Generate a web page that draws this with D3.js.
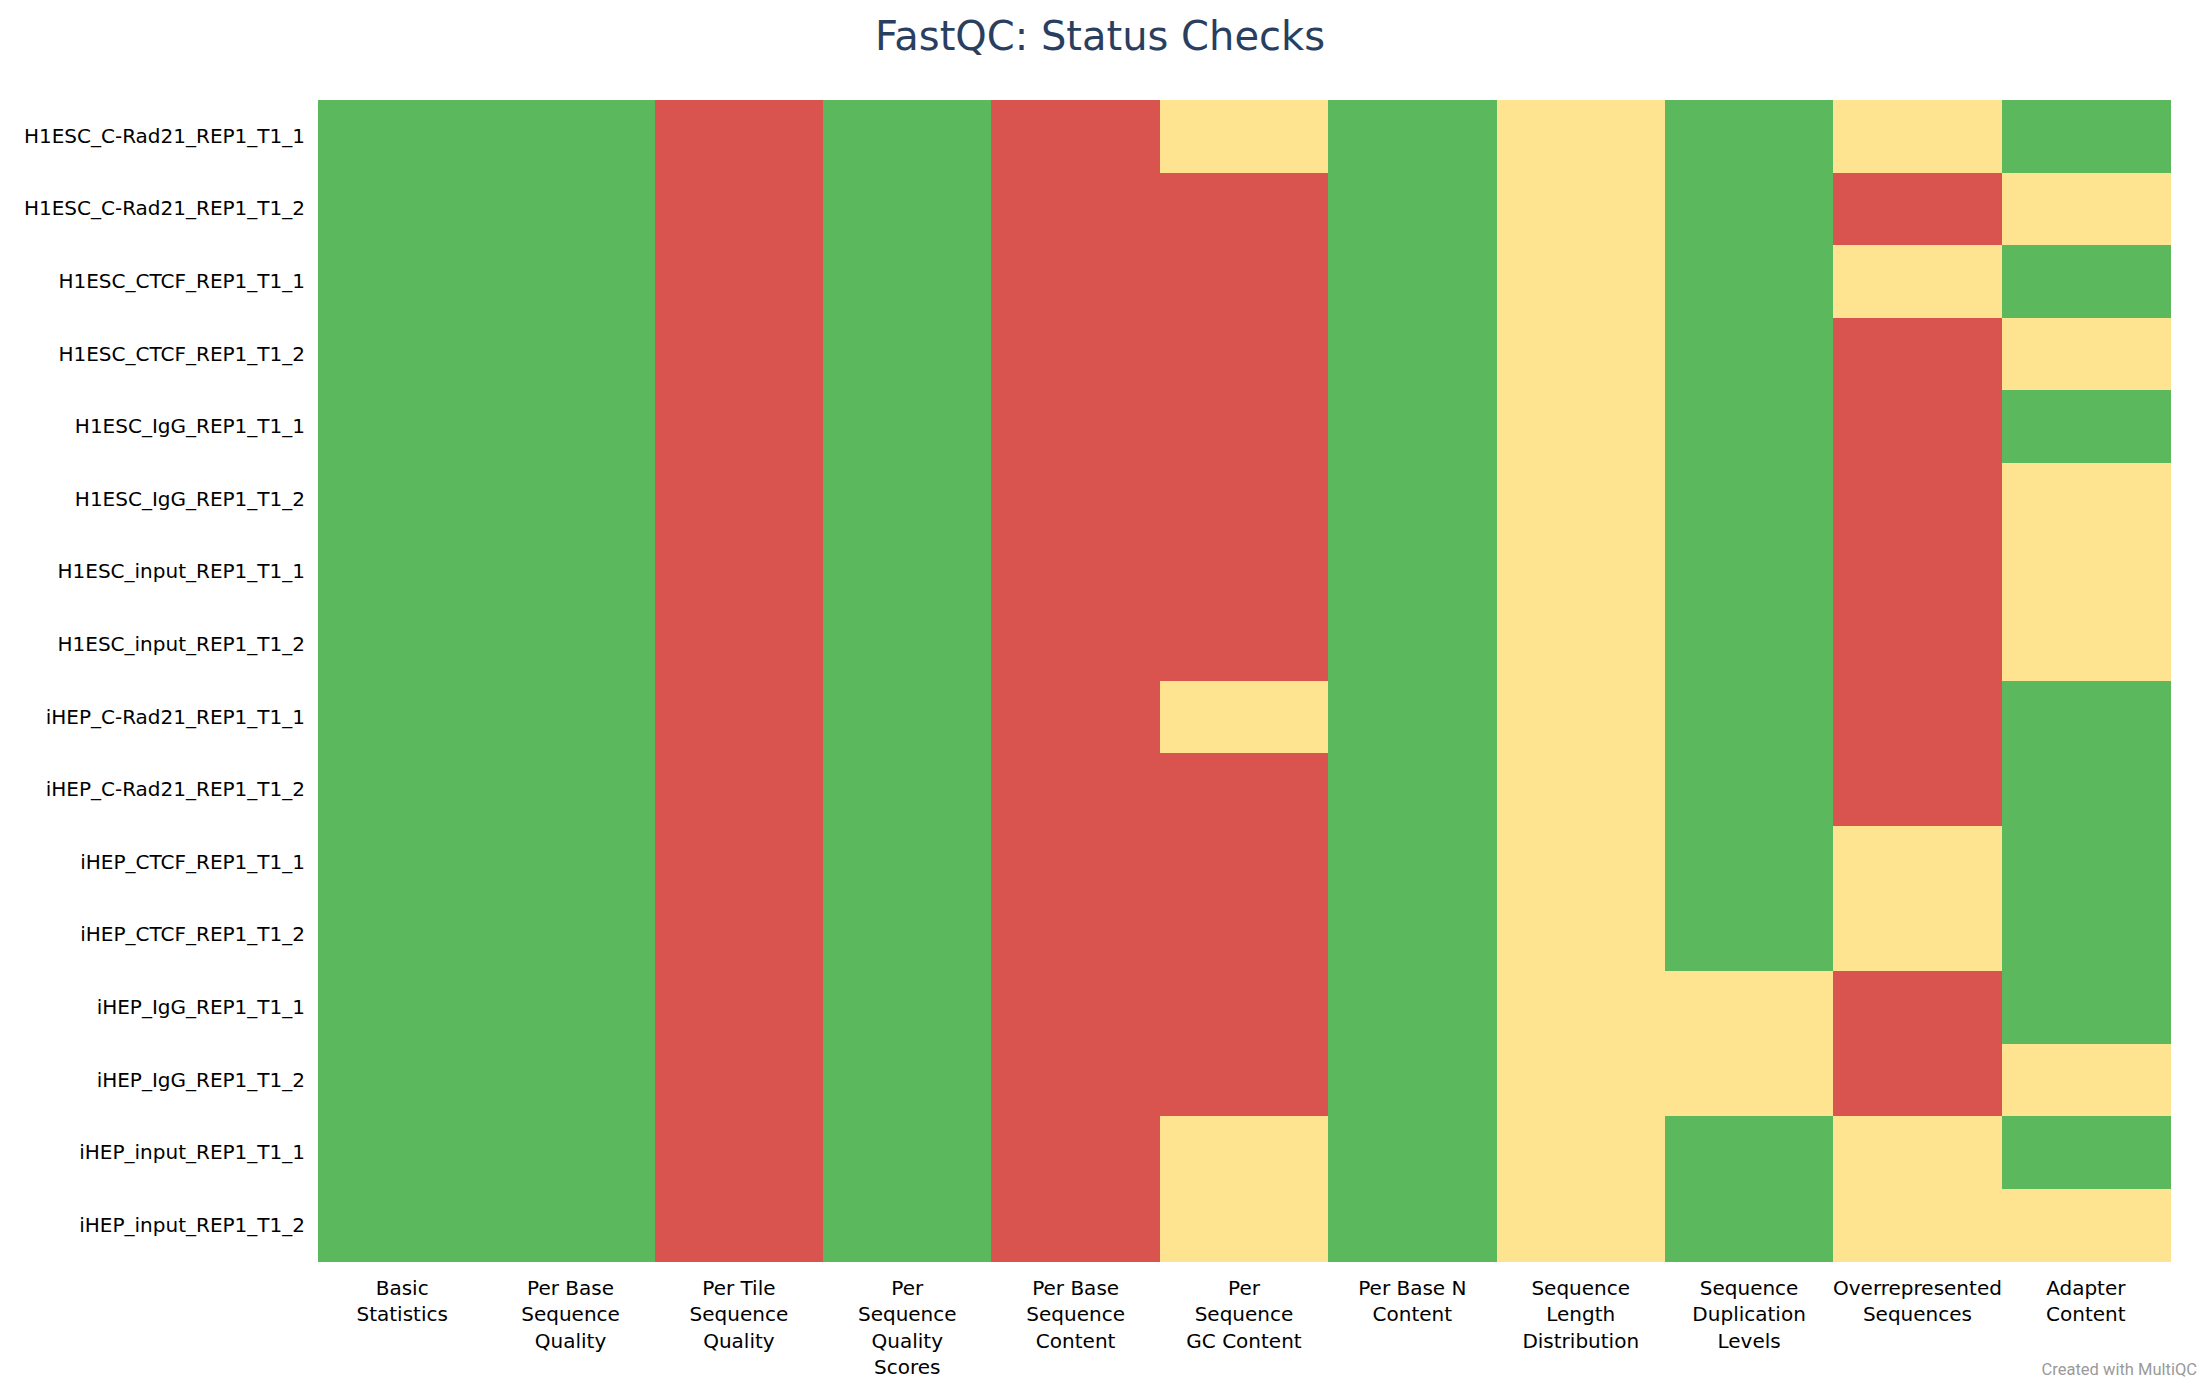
<!DOCTYPE html>
<html>
<head>
<meta charset="utf-8">
<script src="https://cdn.jsdelivr.net/npm/d3@7/dist/d3.min.js"></script>
<style>
  html, body { margin: 0; padding: 0; background: #fff; }
  svg { display: block; }
</style>
</head>
<body>
<svg id="chart" width="2200" height="1400"></svg>
<script>
// Categories (columns) - each as lines of the wrapped label
const checks = [
  ["Basic", "Statistics"],
  ["Per Base", "Sequence", "Quality"],
  ["Per Tile", "Sequence", "Quality"],
  ["Per", "Sequence", "Quality", "Scores"],
  ["Per Base", "Sequence", "Content"],
  ["Per", "Sequence", "GC Content"],
  ["Per Base N", "Content"],
  ["Sequence", "Length", "Distribution"],
  ["Sequence", "Duplication", "Levels"],
  ["Overrepresented", "Sequences"],
  ["Adapter", "Content"]
];

const samples = [
  "H1ESC_C-Rad21_REP1_T1_1",
  "H1ESC_C-Rad21_REP1_T1_2",
  "H1ESC_CTCF_REP1_T1_1",
  "H1ESC_CTCF_REP1_T1_2",
  "H1ESC_IgG_REP1_T1_1",
  "H1ESC_IgG_REP1_T1_2",
  "H1ESC_input_REP1_T1_1",
  "H1ESC_input_REP1_T1_2",
  "iHEP_C-Rad21_REP1_T1_1",
  "iHEP_C-Rad21_REP1_T1_2",
  "iHEP_CTCF_REP1_T1_1",
  "iHEP_CTCF_REP1_T1_2",
  "iHEP_IgG_REP1_T1_1",
  "iHEP_IgG_REP1_T1_2",
  "iHEP_input_REP1_T1_1",
  "iHEP_input_REP1_T1_2"
];

// Status values: 1 = pass, 0.5 = warn, 0.25 = fail
const statusValues = [
  [1, 1, 0.25, 1, 0.25, 0.5,  1, 0.5, 1,   0.5,  1],
  [1, 1, 0.25, 1, 0.25, 0.25, 1, 0.5, 1,   0.25, 0.5],
  [1, 1, 0.25, 1, 0.25, 0.25, 1, 0.5, 1,   0.5,  1],
  [1, 1, 0.25, 1, 0.25, 0.25, 1, 0.5, 1,   0.25, 0.5],
  [1, 1, 0.25, 1, 0.25, 0.25, 1, 0.5, 1,   0.25, 1],
  [1, 1, 0.25, 1, 0.25, 0.25, 1, 0.5, 1,   0.25, 0.5],
  [1, 1, 0.25, 1, 0.25, 0.25, 1, 0.5, 1,   0.25, 0.5],
  [1, 1, 0.25, 1, 0.25, 0.25, 1, 0.5, 1,   0.25, 0.5],
  [1, 1, 0.25, 1, 0.25, 0.5,  1, 0.5, 1,   0.25, 1],
  [1, 1, 0.25, 1, 0.25, 0.25, 1, 0.5, 1,   0.25, 1],
  [1, 1, 0.25, 1, 0.25, 0.25, 1, 0.5, 1,   0.5,  1],
  [1, 1, 0.25, 1, 0.25, 0.25, 1, 0.5, 1,   0.5,  1],
  [1, 1, 0.25, 1, 0.25, 0.25, 1, 0.5, 0.5, 0.25, 1],
  [1, 1, 0.25, 1, 0.25, 0.25, 1, 0.5, 0.5, 0.25, 0.5],
  [1, 1, 0.25, 1, 0.25, 0.5,  1, 0.5, 1,   0.5,  1],
  [1, 1, 0.25, 1, 0.25, 0.5,  1, 0.5, 1,   0.5,  0.5]
];

const statusDomain = [0, 0.25, 0.5, 1];
const statusColors = ["#ffffff", "#d9534f", "#fee391", "#5cb85c"];

const svg = d3.select("#chart");
const margin = { left: 318, right: 30, top: 100, bottom: 138 };
const W = 2200, H = 1400;
const plotW = 2170 - 318, plotH = 1261.7 - 100;

const x = d3.scaleBand().domain(d3.range(checks.length)).range([margin.left, margin.left + plotW]).padding(0);
const y = d3.scaleBand().domain(samples).range([margin.top, margin.top + plotH]).padding(0);
const color = d3.scaleOrdinal().domain(statusDomain).range(statusColors);

const cells = [];
samples.forEach((s, i) => {
  statusValues[i].forEach((v, j) => cells.push({ s, j, v }));
});

svg.append("g").selectAll("rect").data(cells).join("rect")
  .attr("x", d => x(d.j))
  .attr("y", d => y(d.s))
  .attr("width", x.bandwidth() + 0.5)
  .attr("height", y.bandwidth() + 0.5)
  .attr("fill", d => color(d.v))
  .attr("shape-rendering", "crispEdges");

// Y axis
const yAxis = d3.axisLeft(y).tickSize(0).tickPadding(13);
const yg = svg.append("g").attr("transform", `translate(${margin.left},0)`).call(yAxis);
yg.select(".domain").remove();
yg.selectAll("text")
  .attr("font-family", "DejaVu Sans")
  .attr("font-size", 20)
  .attr("fill", "#000");

// X axis (multi-line labels)
const xAxis = d3.axisBottom(x).tickSize(0).tickFormat("");
const xg = svg.append("g").attr("transform", `translate(0,${margin.top + plotH})`).call(xAxis);
xg.select(".domain").remove();
xg.selectAll(".tick").each(function(d) {
  const t = d3.select(this).append("text")
    .attr("font-family", "DejaVu Sans")
    .attr("font-size", 20)
    .attr("fill", "#000")
    .attr("text-anchor", "middle")
    .attr("y", 33);
  checks[d].forEach((line, k) => {
    t.append("tspan").attr("x", 0).attr("dy", k === 0 ? 0 : 26.5).text(line);
  });
});

// Title
svg.append("text")
  .attr("x", 1100).attr("y", 50)
  .attr("text-anchor", "middle")
  .attr("font-family", "DejaVu Sans")
  .attr("font-size", 40)
  .attr("fill", "#2a3f5f")
  .text("FastQC: Status Checks");

// Credit
svg.append("text")
  .attr("x", 2197).attr("y", 1375)
  .attr("text-anchor", "end")
  .attr("font-family", "Roboto")
  .attr("font-size", 16.5)
  .attr("fill", "#9a9a9a")
  .text("Created with MultiQC");
</script>
</body>
</html>
